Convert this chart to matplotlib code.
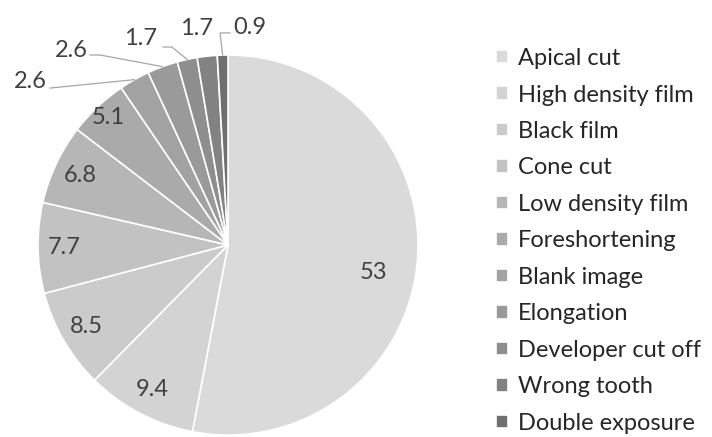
import matplotlib.pyplot as plt
import numpy as np

plt.rcParams['font.family'] = ['Lato', 'DejaVu Sans']

categories = ['Apical cut', 'High density film', 'Black film', 'Cone cut',
              'Low density film', 'Foreshortening', 'Blank image', 'Elongation',
              'Developer cut off', 'Wrong tooth', 'Double exposure']
values = [53, 9.4, 8.5, 7.7, 6.8, 5.1, 2.6, 2.6, 1.7, 1.7, 0.9]
value_labels = ['53', '9.4', '8.5', '7.7', '6.8', '5.1', '2.6', '2.6', '1.7', '1.7', '0.9']
colors = ['#dadada', '#d3d3d3', '#cbcbcb', '#c2c2c2', '#b6b6b6', '#aaaaaa',
          '#a2a2a2', '#9a9a9a', '#8e8e8e', '#828282', '#6f6f6f']

# layout (axes units, pie radius = 1)
INSIDE_R = {0: 0.78, 5: 0.92}
# outside labels: (text x, text y, ha, leader points before the wedge edge)
OUTSIDE = {
    6:  (-0.953, 0.858, 'right', [(-0.937, 0.826)]),
    7:  (-0.737, 1.026, 'right', [(-0.726, 1.0), (-0.674, 1.0)]),
    8:  (-0.374, 1.089, 'right', [(-0.342, 1.042), (-0.295, 1.042)]),
    9:  (-0.168, 1.137, 'center', None),
    10: (0.026, 1.147, 'left', [(0.011, 1.116), (-0.042, 1.116)]),
}
TXT = '#404040'
LEADER = '#a6a6a6'
FS = 17

W, H = 712, 437
fig = plt.figure(figsize=(W / 100, H / 100), dpi=100)
cx, cy, r = 228, 245, 190
ax = fig.add_axes([(cx - r) / W, (H - cy - r) / H, 2 * r / W, 2 * r / H])

wedges, _ = ax.pie(values, colors=colors, startangle=90, counterclock=False,
                   wedgeprops=dict(edgecolor='white', linewidth=1.2))
ax.set_xlim(-1, 1); ax.set_ylim(-1, 1)
ax.set_aspect('equal')
ax.axis('off')

for i, (w, lab) in enumerate(zip(wedges, value_labels)):
    mid = np.deg2rad((w.theta1 + w.theta2) / 2)
    if i in OUTSIDE:
        tx, ty, ha, pts = OUTSIDE[i]
        ax.text(tx, ty, lab, ha=ha, va='center', fontsize=FS,
                color=TXT, clip_on=False)
        if pts:
            xs = [p[0] for p in pts] + [np.cos(mid)]
            ys = [p[1] for p in pts] + [np.sin(mid)]
            ax.plot(xs, ys, color=LEADER, lw=0.9, clip_on=False)
    else:
        rr = INSIDE_R.get(i, 0.86)
        ang = mid if i else np.deg2rad(-10.5)
        ax.text(rr * np.cos(ang), rr * np.sin(ang), lab, ha='center',
                va='center', fontsize=FS, color=TXT)

fig.legend(wedges, categories, loc='upper left', bbox_to_anchor=(0.697, 0.89),
           frameon=False, fontsize=FS, handlelength=0.5, handleheight=0.5,
           handletextpad=0.42, labelspacing=0.655, borderpad=0, borderaxespad=0,
           labelcolor='#262626')

fig.savefig('out.png', dpi=100)
